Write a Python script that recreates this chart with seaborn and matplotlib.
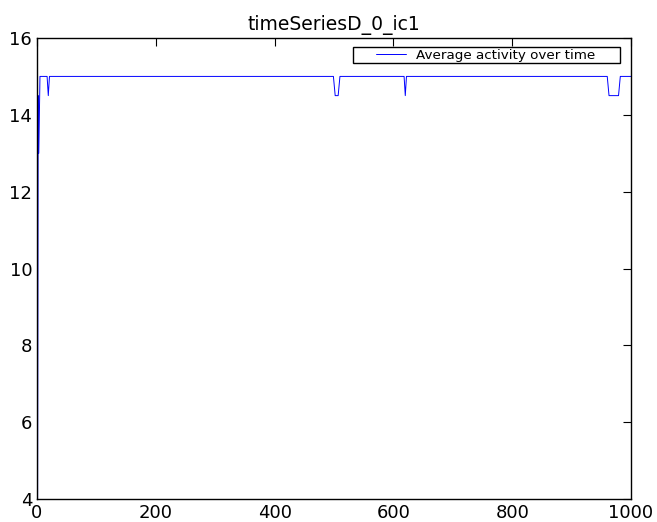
import matplotlib
matplotlib.use("Agg")
import matplotlib.pyplot as plt
from matplotlib.patches import Rectangle
import seaborn as sns
import pandas as pd

# average activity (breakpoints of the line)
time = [1, 2, 3, 5, 17, 19, 21, 499, 502, 507, 510, 618, 620, 622, 960, 963, 979, 982, 1000]
activity = [4, 14.5, 13, 15, 15, 14.5, 15, 15, 14.5, 14.5, 15, 15, 14.5, 15, 15, 14.5, 14.5, 15, 15]
title = "timeSeriesD_0_ic1"
label = "Average activity over time"

sns.set_style("white")
plt.rcParams['font.family'] = ['DejaVu Sans']
plt.rcParams['text.color'] = 'black'
plt.rcParams['xtick.color'] = 'black'
plt.rcParams['ytick.color'] = 'black'
plt.rcParams['xtick.direction'] = 'in'
plt.rcParams['ytick.direction'] = 'in'
plt.rcParams['xtick.top'] = True
plt.rcParams['ytick.right'] = True

df = pd.DataFrame({"time": time, "activity": activity})

fig = plt.figure(figsize=(6.57, 5.22), dpi=100)
ax = fig.add_axes([37/657, 23/522, 594/657, 461/522])
sns.lineplot(data=df, x="time", y="activity", color="b", linewidth=0.7, label=label, ax=ax)

ax.set_xlim(0, 1000)
ax.set_ylim(4, 16)
ax.set_xticks([0, 200, 400, 600, 800, 1000])
ax.set_yticks([4, 6, 8, 10, 12, 14, 16])
ax.tick_params(labelsize=13, length=6, width=0.8, color='black', labelcolor='black')
ax.set_xlabel("")
ax.set_ylabel("")
ax.set_title(title, fontsize=13.5, pad=6)
for s in ax.spines.values():
    s.set_color('black')
    s.set_linewidth(1)

# legend text without its own frame, boxed like the old matplotlib legend
leg = ax.legend(loc="center left", fontsize=9.7, frameon=False,
                bbox_to_anchor=((376 - 37) / 594, 1 - 17 / 461),
                borderpad=0, borderaxespad=0, handlelength=2.2, handletextpad=0.8)
ax.add_patch(Rectangle(((353 - 37) / 594, 1 - 25 / 461), 267 / 594, 16 / 461,
                       transform=ax.transAxes, fill=False, edgecolor='black',
                       linewidth=1, zorder=5))

fig.savefig("out.png", dpi=100)
